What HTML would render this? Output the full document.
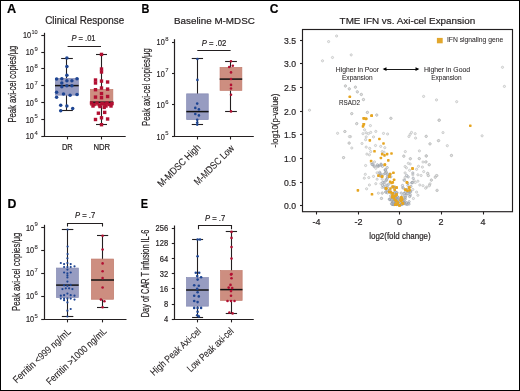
<!DOCTYPE html>
<html><head><meta charset="utf-8"><style>
html,body{margin:0;padding:0;background:#fff;}
text{stroke:#231f20;stroke-width:0.2px;}
svg{display:block;will-change:transform;font-family:"Liberation Sans", sans-serif;}
</style></head><body>
<svg width="520" height="391" viewBox="0 0 520 391">
<rect x="0" y="0" width="520" height="391" fill="#fff"/>
<text x="7" y="12.75" font-size="12" text-anchor="start" font-weight="bold" font-style="normal" fill="#000" textLength="9.2" lengthAdjust="spacingAndGlyphs" >A</text>
<text x="45.2" y="24.3" font-size="10" text-anchor="start" font-weight="normal" font-style="normal" fill="#231f20" textLength="79" lengthAdjust="spacingAndGlyphs" >Clinical Response</text>
<text transform="translate(16.1,84.1) rotate(-90)" font-size="10.2" text-anchor="middle" fill="#231f20" textLength="77" lengthAdjust="spacingAndGlyphs">Peak axi-cel copies/μg</text>
<line x1="44.5" y1="32.8" x2="44.5" y2="136.4" stroke="#231f20" stroke-width="1.2"/>
<line x1="43.5" y1="136.5" x2="125.7" y2="136.5" stroke="#231f20" stroke-width="1.2"/>
<line x1="41.300000000000004" y1="35.5" x2="44.1" y2="35.5" stroke="#231f20" stroke-width="1.1"/>
<text x="37.7" y="34.199999999999996" font-size="6.2" text-anchor="end" font-weight="normal" font-style="normal" fill="#231f20" textLength="6.2" lengthAdjust="spacingAndGlyphs" style="stroke-width:0.08px">10</text>
<text x="31.000000000000004" y="38.3" font-size="9.2" text-anchor="end" font-weight="normal" font-style="normal" fill="#231f20" textLength="8.1" lengthAdjust="spacingAndGlyphs" >10</text>
<line x1="41.300000000000004" y1="52.5" x2="44.1" y2="52.5" stroke="#231f20" stroke-width="1.1"/>
<text x="37.7" y="51.05" font-size="6.2" text-anchor="end" font-weight="normal" font-style="normal" fill="#231f20" textLength="3.3" lengthAdjust="spacingAndGlyphs" style="stroke-width:0.08px">9</text>
<text x="33.900000000000006" y="55.15" font-size="9.2" text-anchor="end" font-weight="normal" font-style="normal" fill="#231f20" textLength="8.1" lengthAdjust="spacingAndGlyphs" >10</text>
<line x1="41.300000000000004" y1="68.5" x2="44.1" y2="68.5" stroke="#231f20" stroke-width="1.1"/>
<text x="37.7" y="67.9" font-size="6.2" text-anchor="end" font-weight="normal" font-style="normal" fill="#231f20" textLength="3.3" lengthAdjust="spacingAndGlyphs" style="stroke-width:0.08px">8</text>
<text x="33.900000000000006" y="72.0" font-size="9.2" text-anchor="end" font-weight="normal" font-style="normal" fill="#231f20" textLength="8.1" lengthAdjust="spacingAndGlyphs" >10</text>
<line x1="41.300000000000004" y1="85.5" x2="44.1" y2="85.5" stroke="#231f20" stroke-width="1.1"/>
<text x="37.7" y="84.75" font-size="6.2" text-anchor="end" font-weight="normal" font-style="normal" fill="#231f20" textLength="3.3" lengthAdjust="spacingAndGlyphs" style="stroke-width:0.08px">7</text>
<text x="33.900000000000006" y="88.85" font-size="9.2" text-anchor="end" font-weight="normal" font-style="normal" fill="#231f20" textLength="8.1" lengthAdjust="spacingAndGlyphs" >10</text>
<line x1="41.300000000000004" y1="102.5" x2="44.1" y2="102.5" stroke="#231f20" stroke-width="1.1"/>
<text x="37.7" y="101.60000000000001" font-size="6.2" text-anchor="end" font-weight="normal" font-style="normal" fill="#231f20" textLength="3.3" lengthAdjust="spacingAndGlyphs" style="stroke-width:0.08px">6</text>
<text x="33.900000000000006" y="105.7" font-size="9.2" text-anchor="end" font-weight="normal" font-style="normal" fill="#231f20" textLength="8.1" lengthAdjust="spacingAndGlyphs" >10</text>
<line x1="41.300000000000004" y1="119.5" x2="44.1" y2="119.5" stroke="#231f20" stroke-width="1.1"/>
<text x="37.7" y="118.45" font-size="6.2" text-anchor="end" font-weight="normal" font-style="normal" fill="#231f20" textLength="3.3" lengthAdjust="spacingAndGlyphs" style="stroke-width:0.08px">5</text>
<text x="33.900000000000006" y="122.55" font-size="9.2" text-anchor="end" font-weight="normal" font-style="normal" fill="#231f20" textLength="8.1" lengthAdjust="spacingAndGlyphs" >10</text>
<line x1="41.300000000000004" y1="136.5" x2="44.1" y2="136.5" stroke="#231f20" stroke-width="1.1"/>
<text x="37.7" y="135.3" font-size="6.2" text-anchor="end" font-weight="normal" font-style="normal" fill="#231f20" textLength="3.3" lengthAdjust="spacingAndGlyphs" style="stroke-width:0.08px">4</text>
<text x="33.900000000000006" y="139.4" font-size="9.2" text-anchor="end" font-weight="normal" font-style="normal" fill="#231f20" textLength="8.1" lengthAdjust="spacingAndGlyphs" >10</text>
<line x1="67.5" y1="136.4" x2="67.5" y2="139.4" stroke="#231f20" stroke-width="1.1"/>
<line x1="101.5" y1="136.4" x2="101.5" y2="139.4" stroke="#231f20" stroke-width="1.1"/>
<text x="67.3" y="150.1" font-size="8.8" text-anchor="middle" font-weight="normal" font-style="normal" fill="#231f20" textLength="10.8" lengthAdjust="spacingAndGlyphs" >DR</text>
<text x="101.8" y="150.1" font-size="8.8" text-anchor="middle" font-weight="normal" font-style="normal" fill="#231f20" textLength="16.8" lengthAdjust="spacingAndGlyphs" >NDR</text>
<text x="71.4" y="41.1" font-size="8.6" text-anchor="start" font-weight="normal" font-style="normal" fill="#231f20" textLength="24.2" lengthAdjust="spacingAndGlyphs" ><tspan font-style="italic">P</tspan> = .01</text>
<line x1="67.6" y1="46.5" x2="101" y2="46.5" stroke="#231f20" stroke-width="1.1"/>
<line x1="66.5" y1="58.3" x2="66.5" y2="110.8" stroke="#231f20" stroke-width="1.1"/>
<line x1="61.15" y1="58.5" x2="72.85" y2="58.5" stroke="#231f20" stroke-width="1.1"/>
<line x1="61.15" y1="110.5" x2="72.85" y2="110.5" stroke="#231f20" stroke-width="1.1"/>
<rect x="55.35" y="78.35" width="23.000000000000004" height="16.8" fill="#979cc1" stroke="#878cb4" stroke-width="0.7"/>
<line x1="55" y1="85.6" x2="78.7" y2="85.6" stroke="#111" stroke-width="1.5"/>
<circle cx="66.9" cy="58.1" r="1.75" fill="#1e4592"/>
<circle cx="66.9" cy="66.5" r="1.75" fill="#1e4592"/>
<circle cx="66.9" cy="75.3" r="1.75" fill="#1e4592"/>
<circle cx="56.6" cy="79.1" r="1.75" fill="#1e4592"/>
<circle cx="61.8" cy="78.8" r="1.75" fill="#1e4592"/>
<circle cx="66.9" cy="80.8" r="1.75" fill="#1e4592"/>
<circle cx="71.9" cy="80.8" r="1.75" fill="#1e4592"/>
<circle cx="77" cy="78.8" r="1.75" fill="#1e4592"/>
<circle cx="61.8" cy="83.1" r="1.75" fill="#1e4592"/>
<circle cx="61.8" cy="86.8" r="1.75" fill="#1e4592"/>
<circle cx="66.9" cy="85.7" r="1.75" fill="#1e4592"/>
<circle cx="71.9" cy="85.7" r="1.75" fill="#1e4592"/>
<circle cx="56.6" cy="92.3" r="1.75" fill="#1e4592"/>
<circle cx="63.5" cy="94.1" r="1.75" fill="#1e4592"/>
<circle cx="70.1" cy="95.2" r="1.75" fill="#1e4592"/>
<circle cx="77" cy="94.6" r="1.75" fill="#1e4592"/>
<circle cx="56.6" cy="97.2" r="1.75" fill="#1e4592"/>
<circle cx="60.7" cy="105.2" r="1.75" fill="#1e4592"/>
<circle cx="66.9" cy="106" r="1.75" fill="#1e4592"/>
<circle cx="72.7" cy="108.4" r="1.75" fill="#1e4592"/>
<circle cx="60.7" cy="110.7" r="1.75" fill="#1e4592"/>
<line x1="101.5" y1="54.4" x2="101.5" y2="124.7" stroke="#231f20" stroke-width="1.1"/>
<line x1="96.0" y1="54.5" x2="107.0" y2="54.5" stroke="#231f20" stroke-width="1.1"/>
<line x1="96.0" y1="124.5" x2="107.0" y2="124.5" stroke="#231f20" stroke-width="1.1"/>
<rect x="90.55" y="89.44999999999999" width="22.3" height="16.200000000000006" fill="#cd8e80" stroke="#c27c6d" stroke-width="0.7"/>
<line x1="90.2" y1="102.2" x2="113.2" y2="102.2" stroke="#111" stroke-width="1.5"/>
<rect x="99.8" y="52.699999999999996" width="3.4" height="3.4" fill="#b21032" stroke="none" stroke-width="0"/>
<rect x="99.8" y="67.3" width="3.4" height="3.4" fill="#b21032" stroke="none" stroke-width="0"/>
<rect x="99.8" y="70.3" width="3.4" height="3.4" fill="#b21032" stroke="none" stroke-width="0"/>
<rect x="93.8" y="78.3" width="3.4" height="3.4" fill="#b21032" stroke="none" stroke-width="0"/>
<rect x="93.8" y="81.3" width="3.4" height="3.4" fill="#b21032" stroke="none" stroke-width="0"/>
<rect x="99.8" y="79.39999999999999" width="3.4" height="3.4" fill="#b21032" stroke="none" stroke-width="0"/>
<rect x="105.89999999999999" y="80.3" width="3.4" height="3.4" fill="#b21032" stroke="none" stroke-width="0"/>
<rect x="93.8" y="88.0" width="3.4" height="3.4" fill="#b21032" stroke="none" stroke-width="0"/>
<rect x="99.8" y="86.3" width="3.4" height="3.4" fill="#b21032" stroke="none" stroke-width="0"/>
<rect x="105.89999999999999" y="87.39999999999999" width="3.4" height="3.4" fill="#b21032" stroke="none" stroke-width="0"/>
<rect x="99.8" y="91.89999999999999" width="3.4" height="3.4" fill="#b21032" stroke="none" stroke-width="0"/>
<rect x="99.8" y="96.0" width="3.4" height="3.4" fill="#b21032" stroke="none" stroke-width="0"/>
<rect x="93.8" y="95.39999999999999" width="3.4" height="3.4" fill="#b21032" stroke="none" stroke-width="0"/>
<rect x="105.89999999999999" y="94.8" width="3.4" height="3.4" fill="#b21032" stroke="none" stroke-width="0"/>
<rect x="89.8" y="101.3" width="3.4" height="3.4" fill="#b21032" stroke="none" stroke-width="0"/>
<rect x="92.3" y="102.8" width="3.4" height="3.4" fill="#b21032" stroke="none" stroke-width="0"/>
<rect x="95.3" y="101.3" width="3.4" height="3.4" fill="#b21032" stroke="none" stroke-width="0"/>
<rect x="97.8" y="103.3" width="3.4" height="3.4" fill="#b21032" stroke="none" stroke-width="0"/>
<rect x="100.3" y="101.8" width="3.4" height="3.4" fill="#b21032" stroke="none" stroke-width="0"/>
<rect x="102.8" y="102.3" width="3.4" height="3.4" fill="#b21032" stroke="none" stroke-width="0"/>
<rect x="105.3" y="101.3" width="3.4" height="3.4" fill="#b21032" stroke="none" stroke-width="0"/>
<rect x="107.8" y="102.8" width="3.4" height="3.4" fill="#b21032" stroke="none" stroke-width="0"/>
<rect x="110.3" y="101.8" width="3.4" height="3.4" fill="#b21032" stroke="none" stroke-width="0"/>
<rect x="91.3" y="104.3" width="3.4" height="3.4" fill="#b21032" stroke="none" stroke-width="0"/>
<rect x="98.3" y="104.8" width="3.4" height="3.4" fill="#b21032" stroke="none" stroke-width="0"/>
<rect x="104.3" y="104.3" width="3.4" height="3.4" fill="#b21032" stroke="none" stroke-width="0"/>
<rect x="109.3" y="104.3" width="3.4" height="3.4" fill="#b21032" stroke="none" stroke-width="0"/>
<rect x="102.5" y="105.7" width="3.4" height="3.4" fill="#b21032" stroke="none" stroke-width="0"/>
<rect x="96.7" y="111.5" width="3.4" height="3.4" fill="#b21032" stroke="none" stroke-width="0"/>
<rect x="103.0" y="110.7" width="3.4" height="3.4" fill="#b21032" stroke="none" stroke-width="0"/>
<rect x="99.8" y="116.1" width="3.4" height="3.4" fill="#b21032" stroke="none" stroke-width="0"/>
<rect x="93.8" y="117.8" width="3.4" height="3.4" fill="#b21032" stroke="none" stroke-width="0"/>
<rect x="105.89999999999999" y="117.3" width="3.4" height="3.4" fill="#b21032" stroke="none" stroke-width="0"/>
<rect x="99.8" y="123.0" width="3.4" height="3.4" fill="#b21032" stroke="none" stroke-width="0"/>
<text x="141.6" y="12.8" font-size="12" text-anchor="start" font-weight="bold" font-style="normal" fill="#000" textLength="7.9" lengthAdjust="spacingAndGlyphs" >B</text>
<text x="174" y="23.7" font-size="9.5" text-anchor="start" font-weight="normal" font-style="normal" fill="#231f20" textLength="80.8" lengthAdjust="spacingAndGlyphs" >Baseline M-MDSC</text>
<text transform="translate(150.2,87) rotate(-90)" font-size="10.2" text-anchor="middle" fill="#231f20" textLength="77.8" lengthAdjust="spacingAndGlyphs">Peak axi-cel copies/μg</text>
<line x1="174.5" y1="39.2" x2="174.5" y2="136.5" stroke="#231f20" stroke-width="1.2"/>
<line x1="174.2" y1="136.5" x2="253.8" y2="136.5" stroke="#231f20" stroke-width="1.2"/>
<line x1="172.0" y1="42.5" x2="174.8" y2="42.5" stroke="#231f20" stroke-width="1.1"/>
<text x="168.5" y="40.9" font-size="6.2" text-anchor="end" font-weight="normal" font-style="normal" fill="#231f20" textLength="3.3" lengthAdjust="spacingAndGlyphs" style="stroke-width:0.08px">8</text>
<text x="164.7" y="45.0" font-size="9.2" text-anchor="end" font-weight="normal" font-style="normal" fill="#231f20" textLength="8.1" lengthAdjust="spacingAndGlyphs" >10</text>
<line x1="172.0" y1="73.5" x2="174.8" y2="73.5" stroke="#231f20" stroke-width="1.1"/>
<text x="168.5" y="72.4" font-size="6.2" text-anchor="end" font-weight="normal" font-style="normal" fill="#231f20" textLength="3.3" lengthAdjust="spacingAndGlyphs" style="stroke-width:0.08px">7</text>
<text x="164.7" y="76.5" font-size="9.2" text-anchor="end" font-weight="normal" font-style="normal" fill="#231f20" textLength="8.1" lengthAdjust="spacingAndGlyphs" >10</text>
<line x1="172.0" y1="104.5" x2="174.8" y2="104.5" stroke="#231f20" stroke-width="1.1"/>
<text x="168.5" y="103.9" font-size="6.2" text-anchor="end" font-weight="normal" font-style="normal" fill="#231f20" textLength="3.3" lengthAdjust="spacingAndGlyphs" style="stroke-width:0.08px">6</text>
<text x="164.7" y="108.0" font-size="9.2" text-anchor="end" font-weight="normal" font-style="normal" fill="#231f20" textLength="8.1" lengthAdjust="spacingAndGlyphs" >10</text>
<line x1="172.0" y1="136.5" x2="174.8" y2="136.5" stroke="#231f20" stroke-width="1.1"/>
<text x="168.5" y="135.4" font-size="6.2" text-anchor="end" font-weight="normal" font-style="normal" fill="#231f20" textLength="3.3" lengthAdjust="spacingAndGlyphs" style="stroke-width:0.08px">5</text>
<text x="164.7" y="139.5" font-size="9.2" text-anchor="end" font-weight="normal" font-style="normal" fill="#231f20" textLength="8.1" lengthAdjust="spacingAndGlyphs" >10</text>
<line x1="197.5" y1="136.4" x2="197.5" y2="139.5" stroke="#231f20" stroke-width="1.1"/>
<line x1="230.5" y1="136.4" x2="230.5" y2="139.5" stroke="#231f20" stroke-width="1.1"/>
<text x="201.7" y="45.5" font-size="8.6" text-anchor="start" font-weight="normal" font-style="normal" fill="#231f20" textLength="24.6" lengthAdjust="spacingAndGlyphs" ><tspan font-style="italic">P</tspan> = .02</text>
<line x1="197.3" y1="50.5" x2="230.6" y2="50.5" stroke="#231f20" stroke-width="1.1"/>
<line x1="197.5" y1="59" x2="197.5" y2="124.6" stroke="#231f20" stroke-width="1.1"/>
<line x1="191.75" y1="58.5" x2="203.05" y2="58.5" stroke="#231f20" stroke-width="1.1"/>
<line x1="191.75" y1="124.5" x2="203.05" y2="124.5" stroke="#231f20" stroke-width="1.1"/>
<rect x="186.65" y="93.85" width="21.599999999999984" height="25.8" fill="#979cc1" stroke="#878cb4" stroke-width="0.7"/>
<line x1="186.3" y1="111.6" x2="208.6" y2="111.6" stroke="#111" stroke-width="1.5"/>
<circle cx="197.4" cy="59" r="1.3" fill="#1e4592"/>
<circle cx="197.4" cy="79.9" r="1.3" fill="#1e4592"/>
<circle cx="197.2" cy="103.6" r="1.3" fill="#1e4592"/>
<circle cx="195.3" cy="107.9" r="1.3" fill="#1e4592"/>
<circle cx="198.9" cy="109.4" r="1.3" fill="#1e4592"/>
<circle cx="195.3" cy="114" r="1.3" fill="#1e4592"/>
<circle cx="198.9" cy="115.4" r="1.3" fill="#1e4592"/>
<circle cx="197.2" cy="119.7" r="1.3" fill="#1e4592"/>
<circle cx="197.2" cy="122.5" r="1.3" fill="#1e4592"/>
<circle cx="197.2" cy="124.6" r="1.3" fill="#1e4592"/>
<line x1="230.5" y1="61.3" x2="230.5" y2="111.4" stroke="#231f20" stroke-width="1.1"/>
<line x1="225.1" y1="61.5" x2="236.9" y2="61.5" stroke="#231f20" stroke-width="1.1"/>
<line x1="225.1" y1="111.5" x2="236.9" y2="111.5" stroke="#231f20" stroke-width="1.1"/>
<rect x="220.04999999999998" y="67.35" width="21.8" height="23.000000000000004" fill="#cd8e80" stroke="#c27c6d" stroke-width="0.7"/>
<line x1="219.7" y1="79.1" x2="242.2" y2="79.1" stroke="#111" stroke-width="1.5"/>
<circle cx="231" cy="61.3" r="1.3" fill="#b21032"/>
<circle cx="229.2" cy="67" r="1.3" fill="#b21032"/>
<circle cx="232.8" cy="65.8" r="1.3" fill="#b21032"/>
<circle cx="231" cy="72.4" r="1.3" fill="#b21032"/>
<circle cx="231" cy="79" r="1.3" fill="#b21032"/>
<circle cx="231" cy="84.9" r="1.3" fill="#b21032"/>
<circle cx="231" cy="88.5" r="1.3" fill="#b21032"/>
<circle cx="231" cy="94.7" r="1.3" fill="#b21032"/>
<circle cx="231" cy="111.4" r="1.3" fill="#b21032"/>
<text transform="translate(201.1,148) rotate(-45)" font-size="10" text-anchor="end" fill="#231f20" textLength="56" lengthAdjust="spacingAndGlyphs" style="stroke-width:0.1px">M-MDSC High</text>
<text transform="translate(234.8,149) rotate(-45)" font-size="10" text-anchor="end" fill="#231f20" textLength="52" lengthAdjust="spacingAndGlyphs" style="stroke-width:0.1px">M-MDSC Low</text>
<text x="269.8" y="12.8" font-size="12" text-anchor="start" font-weight="bold" font-style="normal" fill="#000" textLength="8.7" lengthAdjust="spacingAndGlyphs" >C</text>
<text x="339.6" y="24.2" font-size="9.7" text-anchor="start" font-weight="normal" font-style="normal" fill="#231f20" textLength="135.6" lengthAdjust="spacingAndGlyphs" >TME IFN vs. Axi-cel Expansion</text>
<rect x="302.5" y="29.5" width="210" height="182.2" fill="none" stroke="#231f20" stroke-width="1.15"/>
<line x1="300" y1="205.5" x2="302.6" y2="205.5" stroke="#231f20" stroke-width="1.1"/>
<text x="296" y="209.3" font-size="9" text-anchor="end" font-weight="normal" font-style="normal" fill="#231f20" textLength="12" lengthAdjust="spacingAndGlyphs" >0.0</text>
<line x1="300" y1="182.5" x2="302.6" y2="182.5" stroke="#231f20" stroke-width="1.1"/>
<text x="296" y="185.64000000000001" font-size="9" text-anchor="end" font-weight="normal" font-style="normal" fill="#231f20" textLength="12" lengthAdjust="spacingAndGlyphs" >0.5</text>
<line x1="300" y1="158.5" x2="302.6" y2="158.5" stroke="#231f20" stroke-width="1.1"/>
<text x="296" y="161.98000000000002" font-size="9" text-anchor="end" font-weight="normal" font-style="normal" fill="#231f20" textLength="12" lengthAdjust="spacingAndGlyphs" >1.0</text>
<line x1="300" y1="134.5" x2="302.6" y2="134.5" stroke="#231f20" stroke-width="1.1"/>
<text x="296" y="138.32000000000002" font-size="9" text-anchor="end" font-weight="normal" font-style="normal" fill="#231f20" textLength="12" lengthAdjust="spacingAndGlyphs" >1.5</text>
<line x1="300" y1="111.5" x2="302.6" y2="111.5" stroke="#231f20" stroke-width="1.1"/>
<text x="296" y="114.66000000000001" font-size="9" text-anchor="end" font-weight="normal" font-style="normal" fill="#231f20" textLength="12" lengthAdjust="spacingAndGlyphs" >2.0</text>
<line x1="300" y1="87.5" x2="302.6" y2="87.5" stroke="#231f20" stroke-width="1.1"/>
<text x="296" y="91.00000000000001" font-size="9" text-anchor="end" font-weight="normal" font-style="normal" fill="#231f20" textLength="12" lengthAdjust="spacingAndGlyphs" >2.5</text>
<line x1="300" y1="63.5" x2="302.6" y2="63.5" stroke="#231f20" stroke-width="1.1"/>
<text x="296" y="67.34" font-size="9" text-anchor="end" font-weight="normal" font-style="normal" fill="#231f20" textLength="12" lengthAdjust="spacingAndGlyphs" >3.0</text>
<line x1="300" y1="40.5" x2="302.6" y2="40.5" stroke="#231f20" stroke-width="1.1"/>
<text x="296" y="43.68" font-size="9" text-anchor="end" font-weight="normal" font-style="normal" fill="#231f20" textLength="12" lengthAdjust="spacingAndGlyphs" >3.5</text>
<line x1="316.5" y1="211.7" x2="316.5" y2="214.5" stroke="#231f20" stroke-width="1.1"/>
<text x="316.6" y="225.4" font-size="9" text-anchor="middle" font-weight="normal" font-style="normal" fill="#231f20" >-4</text>
<line x1="358.5" y1="211.7" x2="358.5" y2="214.5" stroke="#231f20" stroke-width="1.1"/>
<text x="358.5" y="225.4" font-size="9" text-anchor="middle" font-weight="normal" font-style="normal" fill="#231f20" >-2</text>
<line x1="399.5" y1="211.7" x2="399.5" y2="214.5" stroke="#231f20" stroke-width="1.1"/>
<text x="399.6" y="225.4" font-size="9" text-anchor="middle" font-weight="normal" font-style="normal" fill="#231f20" >0</text>
<line x1="441.5" y1="211.7" x2="441.5" y2="214.5" stroke="#231f20" stroke-width="1.1"/>
<text x="441.1" y="225.4" font-size="9" text-anchor="middle" font-weight="normal" font-style="normal" fill="#231f20" >2</text>
<line x1="483.5" y1="211.7" x2="483.5" y2="214.5" stroke="#231f20" stroke-width="1.1"/>
<text x="483.1" y="225.4" font-size="9" text-anchor="middle" font-weight="normal" font-style="normal" fill="#231f20" >4</text>
<text x="369.2" y="238.5" font-size="9.4" text-anchor="start" font-weight="normal" font-style="normal" fill="#231f20" textLength="61.5" lengthAdjust="spacingAndGlyphs" >log2(fold change)</text>
<text transform="translate(278.3,120.5) rotate(-90)" font-size="9.6" text-anchor="middle" fill="#231f20" textLength="53.8" lengthAdjust="spacingAndGlyphs">-log10(p-value)</text>
<rect x="436.9" y="37.9" width="5.8" height="5.4" fill="#e2a72d" stroke="none" stroke-width="0"/>
<text x="446.9" y="42.3" font-size="7.3" text-anchor="start" font-weight="normal" font-style="normal" fill="#231f20" textLength="56.4" lengthAdjust="spacingAndGlyphs" style="stroke-width:0.05px">IFN signaling gene</text>
<text x="335.8" y="71.9" font-size="7.3" text-anchor="start" font-weight="normal" font-style="normal" fill="#231f20" textLength="43.3" lengthAdjust="spacingAndGlyphs" style="stroke-width:0.05px">Higher in Poor</text>
<text x="342" y="79.8" font-size="7.3" text-anchor="start" font-weight="normal" font-style="normal" fill="#231f20" textLength="30.6" lengthAdjust="spacingAndGlyphs" style="stroke-width:0.05px">Expansion</text>
<text x="423.9" y="71.7" font-size="7.3" text-anchor="start" font-weight="normal" font-style="normal" fill="#231f20" textLength="46.3" lengthAdjust="spacingAndGlyphs" style="stroke-width:0.05px">Higher in Good</text>
<text x="431.2" y="79.7" font-size="7.3" text-anchor="start" font-weight="normal" font-style="normal" fill="#231f20" textLength="30.4" lengthAdjust="spacingAndGlyphs" style="stroke-width:0.05px">Expansion</text>
<text x="339" y="104.8" font-size="7.3" text-anchor="start" font-weight="normal" font-style="normal" fill="#231f20" textLength="21" lengthAdjust="spacingAndGlyphs" style="stroke-width:0.05px">RSAD2</text>
<line x1="384" y1="69.5" x2="418" y2="69.5" stroke="#000" stroke-width="0.9"/>
<path d="M382.6,69.1 L386.5,67.3 L386.5,70.9 Z M419.4,69.1 L415.5,67.3 L415.5,70.9 Z" fill="#000"/>
<g fill="#e6e6e6" fill-opacity="0.6" stroke="#b8b9ba" stroke-width="0.65"><circle cx="336.6" cy="36" r="1.1"/><circle cx="328.6" cy="41.6" r="1.1"/><circle cx="332.5" cy="57.5" r="1.1"/><circle cx="322.5" cy="60.8" r="1.1"/><circle cx="351.2" cy="54.9" r="1.1"/><circle cx="345.5" cy="85.9" r="1.1"/><circle cx="349.4" cy="88.9" r="1.1"/><circle cx="355.5" cy="87.1" r="1.1"/><circle cx="357.5" cy="92" r="1.1"/><circle cx="361.4" cy="94.6" r="1.1"/><circle cx="363.4" cy="99.7" r="1.1"/><circle cx="309.5" cy="110.2" r="1.1"/><circle cx="351.7" cy="113.7" r="1.1"/><circle cx="367.3" cy="112.5" r="1.1"/><circle cx="376.7" cy="115" r="1.1"/><circle cx="390.8" cy="118.3" r="1.1"/><circle cx="356.8" cy="123.5" r="1.1"/><circle cx="502.5" cy="67.3" r="1.1"/><circle cx="504.4" cy="86.4" r="1.1"/><circle cx="423.6" cy="96.4" r="1.1"/><circle cx="436.5" cy="99.9" r="1.1"/><circle cx="456.7" cy="101.7" r="1.1"/><circle cx="439.2" cy="120" r="1.1"/><circle cx="351.8" cy="113.6" r="1.1"/><circle cx="367.5" cy="112.3" r="1.1"/><circle cx="376.8" cy="115.1" r="1.1"/><circle cx="356.6" cy="123.8" r="1.1"/><circle cx="370.4" cy="125.6" r="1.1"/><circle cx="344.9" cy="131.5" r="1.1"/><circle cx="364.6" cy="129.8" r="1.1"/><circle cx="375.8" cy="131.4" r="1.1"/><circle cx="363" cy="133.7" r="1.1"/><circle cx="366.2" cy="132.8" r="1.1"/><circle cx="368.4" cy="133.7" r="1.1"/><circle cx="370.7" cy="132.4" r="1.1"/><circle cx="350.5" cy="136.6" r="1.1"/><circle cx="366.2" cy="136.9" r="1.1"/><circle cx="373.5" cy="136.9" r="1.1"/><circle cx="383.5" cy="133.4" r="1.1"/><circle cx="387.6" cy="134" r="1.1"/><circle cx="365.6" cy="139.7" r="1.1"/><circle cx="349.2" cy="143.2" r="1.1"/><circle cx="362" cy="143.5" r="1.1"/><circle cx="375.5" cy="145.5" r="1.1"/><circle cx="380.7" cy="146.4" r="1.1"/><circle cx="384.8" cy="147.7" r="1.1"/><circle cx="351.8" cy="148" r="1.1"/><circle cx="366.2" cy="147.1" r="1.1"/><circle cx="369.7" cy="148.4" r="1.1"/><circle cx="370.7" cy="151.6" r="1.1"/><circle cx="366.9" cy="154.1" r="1.1"/><circle cx="369.4" cy="154.8" r="1.1"/><circle cx="382.2" cy="151.6" r="1.1"/><circle cx="384.1" cy="152.2" r="1.1"/><circle cx="343.6" cy="157.6" r="1.1"/><circle cx="391" cy="118.3" r="1.1"/><circle cx="439" cy="120.2" r="1.1"/><circle cx="411.5" cy="132.4" r="1.1"/><circle cx="410.2" cy="134.3" r="1.1"/><circle cx="408.9" cy="136.5" r="1.1"/><circle cx="415.2" cy="133.7" r="1.1"/><circle cx="415.6" cy="138.1" r="1.1"/><circle cx="426.2" cy="136.2" r="1.1"/><circle cx="429.9" cy="143.9" r="1.1"/><circle cx="438.3" cy="140.7" r="1.1"/><circle cx="405.3" cy="151.6" r="1.1"/><circle cx="419.4" cy="150.9" r="1.1"/><circle cx="403.8" cy="156" r="1.1"/><circle cx="410.5" cy="158.6" r="1.1"/><circle cx="419.4" cy="158.6" r="1.1"/><circle cx="426.4" cy="155.8" r="1.1"/><circle cx="365.6" cy="165.5" r="1.1"/><circle cx="371.3" cy="162.6" r="1.1"/><circle cx="374.5" cy="161.9" r="1.1"/><circle cx="373.9" cy="166.4" r="1.1"/><circle cx="375.8" cy="168.3" r="1.1"/><circle cx="378.4" cy="165.8" r="1.1"/><circle cx="380.9" cy="165.1" r="1.1"/><circle cx="365.3" cy="174.3" r="1.1"/><circle cx="364.3" cy="178.2" r="1.1"/><circle cx="368.8" cy="177.6" r="1.1"/><circle cx="373.5" cy="176.4" r="1.1"/><circle cx="377.1" cy="172.8" r="1.1"/><circle cx="380.9" cy="174.1" r="1.1"/><circle cx="384.8" cy="173.4" r="1.1"/><circle cx="377.1" cy="179.2" r="1.1"/><circle cx="382.2" cy="179.2" r="1.1"/><circle cx="386" cy="179.2" r="1.1"/><circle cx="375.8" cy="183.7" r="1.1"/><circle cx="380.9" cy="183.7" r="1.1"/><circle cx="384.8" cy="184.3" r="1.1"/><circle cx="369.4" cy="185" r="1.1"/><circle cx="366.6" cy="188.8" r="1.1"/><circle cx="382.2" cy="187.5" r="1.1"/><circle cx="386" cy="186.9" r="1.1"/><circle cx="378.4" cy="193.2" r="1.1"/><circle cx="382.2" cy="193.2" r="1.1"/><circle cx="381.6" cy="198.4" r="1.1"/><circle cx="439.3" cy="120.4" r="1.1"/><circle cx="426.2" cy="136.5" r="1.1"/><circle cx="443" cy="132.6" r="1.1"/><circle cx="438.8" cy="140.6" r="1.1"/><circle cx="430.1" cy="143.8" r="1.1"/><circle cx="447.3" cy="145.7" r="1.1"/><circle cx="451.5" cy="155.3" r="1.1"/><circle cx="482.1" cy="135.8" r="1.1"/><circle cx="426.2" cy="156" r="1.1"/><circle cx="426.2" cy="161.8" r="1.1"/><circle cx="429.1" cy="164.8" r="1.1"/><circle cx="427.8" cy="173.3" r="1.1"/><circle cx="428.5" cy="175.6" r="1.1"/><circle cx="431.4" cy="180.2" r="1.1"/><circle cx="435.4" cy="176.8" r="1.1"/><circle cx="437" cy="175.6" r="1.1"/><circle cx="429.6" cy="184.8" r="1.1"/><circle cx="426.8" cy="187.1" r="1.1"/><circle cx="437" cy="190.6" r="1.1"/><circle cx="337.6" cy="133.3" r="1.1"/><circle cx="344.8" cy="131.5" r="1.1"/><circle cx="349.4" cy="136.6" r="1.1"/><circle cx="349.1" cy="143" r="1.1"/><circle cx="343.5" cy="157.6" r="1.1"/><circle cx="382.2" cy="193" r="1.1"/><circle cx="381.3" cy="198.4" r="1.1"/><circle cx="403.8" cy="156.3" r="1.1"/><circle cx="410.2" cy="158.8" r="1.1"/><circle cx="419.2" cy="158.6" r="1.1"/><circle cx="426.2" cy="156" r="1.1"/><circle cx="423" cy="162" r="1.1"/><circle cx="425.6" cy="162" r="1.1"/><circle cx="429.4" cy="164.6" r="1.1"/><circle cx="408.3" cy="163.3" r="1.1"/><circle cx="410.2" cy="164" r="1.1"/><circle cx="405.1" cy="166.5" r="1.1"/><circle cx="406.4" cy="167.8" r="1.1"/><circle cx="418.5" cy="166.3" r="1.1"/><circle cx="422.4" cy="167.1" r="1.1"/><circle cx="409.6" cy="170.3" r="1.1"/><circle cx="416.6" cy="169.3" r="1.1"/><circle cx="423.7" cy="171.6" r="1.1"/><circle cx="405.1" cy="172.9" r="1.1"/><circle cx="412.8" cy="174.8" r="1.1"/><circle cx="417.9" cy="174.8" r="1.1"/><circle cx="421.1" cy="175.5" r="1.1"/><circle cx="427.5" cy="173.5" r="1.1"/><circle cx="428.1" cy="175.5" r="1.1"/><circle cx="436.4" cy="175.5" r="1.1"/><circle cx="435.2" cy="177.4" r="1.1"/><circle cx="405.1" cy="177.4" r="1.1"/><circle cx="431.3" cy="180" r="1.1"/><circle cx="414.1" cy="180.6" r="1.1"/><circle cx="417.9" cy="181.2" r="1.1"/><circle cx="403.8" cy="180" r="1.1"/><circle cx="412.1" cy="182.5" r="1.1"/><circle cx="415.3" cy="182.5" r="1.1"/><circle cx="419.8" cy="185" r="1.1"/><circle cx="423" cy="185.7" r="1.1"/><circle cx="425.6" cy="188.2" r="1.1"/><circle cx="430" cy="183.8" r="1.1"/><circle cx="429.4" cy="185.7" r="1.1"/><circle cx="402.6" cy="187.6" r="1.1"/><circle cx="437.1" cy="190.2" r="1.1"/><circle cx="412.8" cy="189.5" r="1.1"/><circle cx="416.6" cy="192.1" r="1.1"/><circle cx="417.9" cy="195.3" r="1.1"/><circle cx="409" cy="192.1" r="1.1"/><circle cx="410.2" cy="195.9" r="1.1"/><circle cx="403.8" cy="193.4" r="1.1"/><circle cx="405.1" cy="197.2" r="1.1"/><circle cx="413.4" cy="198.5" r="1.1"/><circle cx="402.6" cy="199.8" r="1.1"/><circle cx="405.8" cy="202.3" r="1.1"/><circle cx="451.4" cy="155.6" r="1.1"/><circle cx="345.3" cy="86" r="1.1"/><circle cx="349.2" cy="88.8" r="1.1"/><circle cx="355.3" cy="87.2" r="1.1"/><circle cx="357.2" cy="91.7" r="1.1"/><circle cx="361.3" cy="94.3" r="1.1"/><circle cx="363.5" cy="99.4" r="1.1"/></g>
<g fill="#cfd4da" fill-opacity="0.5" stroke="#959ca4" stroke-width="0.6"><circle cx="391.1" cy="200.1" r="1.15"/><circle cx="383.6" cy="186.7" r="1.15"/><circle cx="389.8" cy="192.4" r="1.15"/><circle cx="396.8" cy="204.4" r="1.15"/><circle cx="396.1" cy="204.4" r="1.15"/><circle cx="392.6" cy="204.3" r="1.15"/><circle cx="397.0" cy="196.9" r="1.15"/><circle cx="393.7" cy="203.9" r="1.15"/><circle cx="394.7" cy="188.0" r="1.15"/><circle cx="389.3" cy="190.5" r="1.15"/><circle cx="372.0" cy="164.5" r="1.15"/><circle cx="379.9" cy="173.5" r="1.15"/><circle cx="392.5" cy="203.6" r="1.15"/><circle cx="398.3" cy="200.5" r="1.15"/><circle cx="397.0" cy="203.1" r="1.15"/><circle cx="387.5" cy="187.4" r="1.15"/><circle cx="386.0" cy="191.9" r="1.15"/><circle cx="393.7" cy="204.4" r="1.15"/><circle cx="387.1" cy="185.1" r="1.15"/><circle cx="395.8" cy="200.4" r="1.15"/><circle cx="390.7" cy="195.9" r="1.15"/><circle cx="387.5" cy="178.0" r="1.15"/><circle cx="396.4" cy="202.0" r="1.15"/><circle cx="395.9" cy="192.9" r="1.15"/><circle cx="384.0" cy="182.2" r="1.15"/><circle cx="372.9" cy="164.1" r="1.15"/><circle cx="396.3" cy="197.2" r="1.15"/><circle cx="396.2" cy="203.5" r="1.15"/><circle cx="398.4" cy="204.4" r="1.15"/><circle cx="386.7" cy="179.9" r="1.15"/><circle cx="379.7" cy="172.3" r="1.15"/><circle cx="388.8" cy="184.2" r="1.15"/><circle cx="389.9" cy="190.4" r="1.15"/><circle cx="389.5" cy="174.9" r="1.15"/><circle cx="394.4" cy="195.1" r="1.15"/><circle cx="398.7" cy="204.3" r="1.15"/><circle cx="394.9" cy="186.9" r="1.15"/><circle cx="381.1" cy="176.1" r="1.15"/><circle cx="395.8" cy="198.2" r="1.15"/><circle cx="396.4" cy="204.5" r="1.15"/><circle cx="392.3" cy="203.3" r="1.15"/><circle cx="399.4" cy="204.4" r="1.15"/><circle cx="393.9" cy="203.8" r="1.15"/><circle cx="397.9" cy="198.1" r="1.15"/><circle cx="396.1" cy="204.2" r="1.15"/><circle cx="395.5" cy="191.8" r="1.15"/><circle cx="389.0" cy="176.3" r="1.15"/><circle cx="394.4" cy="201.2" r="1.15"/><circle cx="398.5" cy="199.1" r="1.15"/><circle cx="374.3" cy="166.0" r="1.15"/><circle cx="393.4" cy="203.2" r="1.15"/><circle cx="395.6" cy="202.2" r="1.15"/><circle cx="387.4" cy="189.9" r="1.15"/><circle cx="396.0" cy="204.5" r="1.15"/><circle cx="394.9" cy="198.8" r="1.15"/><circle cx="382.4" cy="166.3" r="1.15"/><circle cx="393.1" cy="193.3" r="1.15"/><circle cx="382.6" cy="185.3" r="1.15"/><circle cx="385.4" cy="170.5" r="1.15"/><circle cx="386.5" cy="172.4" r="1.15"/><circle cx="392.8" cy="198.0" r="1.15"/><circle cx="397.9" cy="204.0" r="1.15"/><circle cx="392.3" cy="204.3" r="1.15"/><circle cx="392.5" cy="202.7" r="1.15"/><circle cx="389.8" cy="199.6" r="1.15"/><circle cx="393.3" cy="204.5" r="1.15"/><circle cx="395.2" cy="204.1" r="1.15"/><circle cx="400.5" cy="204.5" r="1.15"/><circle cx="385.4" cy="188.7" r="1.15"/><circle cx="394.0" cy="201.8" r="1.15"/><circle cx="390.2" cy="198.9" r="1.15"/><circle cx="389.9" cy="174.2" r="1.15"/><circle cx="392.5" cy="195.4" r="1.15"/><circle cx="392.6" cy="204.2" r="1.15"/><circle cx="392.1" cy="199.6" r="1.15"/><circle cx="379.2" cy="175.6" r="1.15"/><circle cx="401.3" cy="204.5" r="1.15"/><circle cx="387.4" cy="192.8" r="1.15"/><circle cx="385.7" cy="192.1" r="1.15"/><circle cx="397.0" cy="192.8" r="1.15"/><circle cx="385.4" cy="173.2" r="1.15"/><circle cx="394.1" cy="201.6" r="1.15"/><circle cx="399.0" cy="203.3" r="1.15"/><circle cx="394.6" cy="192.6" r="1.15"/><circle cx="391.8" cy="199.9" r="1.15"/><circle cx="390.8" cy="176.8" r="1.15"/><circle cx="387.2" cy="174.0" r="1.15"/><circle cx="387.3" cy="176.4" r="1.15"/><circle cx="396.0" cy="202.3" r="1.15"/><circle cx="389.3" cy="199.2" r="1.15"/><circle cx="394.5" cy="204.5" r="1.15"/><circle cx="397.5" cy="201.7" r="1.15"/><circle cx="378.7" cy="166.1" r="1.15"/><circle cx="387.2" cy="167.6" r="1.15"/><circle cx="377.6" cy="166.2" r="1.15"/><circle cx="393.0" cy="202.5" r="1.15"/><circle cx="393.0" cy="202.9" r="1.15"/><circle cx="394.2" cy="188.1" r="1.15"/><circle cx="383.1" cy="174.8" r="1.15"/><circle cx="392.4" cy="186.6" r="1.15"/><circle cx="398.3" cy="204.2" r="1.15"/><circle cx="385.1" cy="169.7" r="1.15"/><circle cx="385.9" cy="180.9" r="1.15"/><circle cx="399.1" cy="203.2" r="1.15"/><circle cx="397.9" cy="199.9" r="1.15"/><circle cx="377.4" cy="164.8" r="1.15"/><circle cx="398.6" cy="197.7" r="1.15"/><circle cx="382.7" cy="182.4" r="1.15"/><circle cx="392.9" cy="203.8" r="1.15"/><circle cx="385.6" cy="170.1" r="1.15"/><circle cx="399.7" cy="203.6" r="1.15"/><circle cx="381.0" cy="164.1" r="1.15"/><circle cx="395.0" cy="199.3" r="1.15"/><circle cx="391.5" cy="203.8" r="1.15"/><circle cx="381.2" cy="164.9" r="1.15"/><circle cx="396.5" cy="192.9" r="1.15"/><circle cx="397.3" cy="196.6" r="1.15"/><circle cx="380.0" cy="175.8" r="1.15"/><circle cx="393.4" cy="201.8" r="1.15"/><circle cx="396.6" cy="202.1" r="1.15"/><circle cx="403.9" cy="200.8" r="1.15"/><circle cx="408.4" cy="203.3" r="1.15"/><circle cx="404.7" cy="198.4" r="1.15"/><circle cx="410.4" cy="191.0" r="1.15"/><circle cx="409.6" cy="196.5" r="1.15"/><circle cx="406.2" cy="193.9" r="1.15"/><circle cx="401.2" cy="193.1" r="1.15"/><circle cx="402.4" cy="195.9" r="1.15"/><circle cx="407.1" cy="204.5" r="1.15"/><circle cx="404.1" cy="202.6" r="1.15"/><circle cx="407.9" cy="185.4" r="1.15"/><circle cx="405.2" cy="199.2" r="1.15"/><circle cx="409.1" cy="192.0" r="1.15"/><circle cx="404.8" cy="203.6" r="1.15"/><circle cx="402.4" cy="201.1" r="1.15"/><circle cx="407.8" cy="183.3" r="1.15"/><circle cx="408.8" cy="191.8" r="1.15"/><circle cx="408.2" cy="176.9" r="1.15"/><circle cx="406.6" cy="189.9" r="1.15"/><circle cx="407.9" cy="193.5" r="1.15"/><circle cx="405.9" cy="195.5" r="1.15"/><circle cx="410.2" cy="194.7" r="1.15"/><circle cx="410.9" cy="186.4" r="1.15"/><circle cx="406.6" cy="175.4" r="1.15"/><circle cx="410.7" cy="191.9" r="1.15"/><circle cx="404.6" cy="180.3" r="1.15"/><circle cx="403.7" cy="203.4" r="1.15"/><circle cx="401.6" cy="204.0" r="1.15"/><circle cx="405.9" cy="204.0" r="1.15"/><circle cx="411.7" cy="182.8" r="1.15"/><circle cx="406.5" cy="202.9" r="1.15"/><circle cx="403.3" cy="188.0" r="1.15"/><circle cx="413.2" cy="178.3" r="1.15"/><circle cx="409.1" cy="201.7" r="1.15"/><circle cx="405.2" cy="197.2" r="1.15"/><circle cx="412.8" cy="173.0" r="1.15"/><circle cx="403.7" cy="202.8" r="1.15"/><circle cx="404.4" cy="193.4" r="1.15"/><circle cx="402.7" cy="202.1" r="1.15"/><circle cx="402.5" cy="185.5" r="1.15"/><circle cx="405.6" cy="192.1" r="1.15"/><circle cx="402.4" cy="204.4" r="1.15"/><circle cx="406.8" cy="189.5" r="1.15"/><circle cx="409.0" cy="204.1" r="1.15"/><circle cx="412.5" cy="182.6" r="1.15"/></g>
<g fill="#e6a520"><rect x="348.5" y="95.5" width="2.6" height="2.6" rx="0.7"/><rect x="362.59999999999997" y="117.10000000000001" width="2.6" height="2.6" rx="0.7"/><rect x="364.7" y="117.60000000000001" width="2.6" height="2.6" rx="0.7"/><rect x="370.3" y="114.5" width="2.6" height="2.6" rx="0.7"/><rect x="362.59999999999997" y="122.9" width="2.6" height="2.6" rx="0.7"/><rect x="469.0" y="124.4" width="2.6" height="2.6" rx="0.7"/><rect x="370.4" y="114.2" width="2.6" height="2.6" rx="0.7"/><rect x="362.4" y="117.0" width="2.6" height="2.6" rx="0.7"/><rect x="364.9" y="117.4" width="2.6" height="2.6" rx="0.7"/><rect x="362.4" y="123.0" width="2.6" height="2.6" rx="0.7"/><rect x="361.7" y="125.10000000000001" width="2.6" height="2.6" rx="0.7"/><rect x="368.5" y="139.1" width="2.6" height="2.6" rx="0.7"/><rect x="378.09999999999997" y="137.7" width="2.6" height="2.6" rx="0.7"/><rect x="382.2" y="142.2" width="2.6" height="2.6" rx="0.7"/><rect x="373.2" y="150.0" width="2.6" height="2.6" rx="0.7"/><rect x="380.9" y="152.79999999999998" width="2.6" height="2.6" rx="0.7"/><rect x="383.2" y="154.1" width="2.6" height="2.6" rx="0.7"/><rect x="385.8" y="152.79999999999998" width="2.6" height="2.6" rx="0.7"/><rect x="379.59999999999997" y="156.7" width="2.6" height="2.6" rx="0.7"/><rect x="390.2" y="152.2" width="2.6" height="2.6" rx="0.7"/><rect x="369.8" y="159.7" width="2.6" height="2.6" rx="0.7"/><rect x="383.5" y="163.6" width="2.6" height="2.6" rx="0.7"/><rect x="377.09999999999997" y="174.29999999999998" width="2.6" height="2.6" rx="0.7"/><rect x="380.9" y="175.29999999999998" width="2.6" height="2.6" rx="0.7"/><rect x="387.9" y="175.29999999999998" width="2.6" height="2.6" rx="0.7"/><rect x="356.59999999999997" y="189.1" width="2.6" height="2.6" rx="0.7"/><rect x="370.7" y="193.0" width="2.6" height="2.6" rx="0.7"/><rect x="384.7" y="187.1" width="2.6" height="2.6" rx="0.7"/><rect x="387.9" y="190.7" width="2.6" height="2.6" rx="0.7"/><rect x="383.59999999999997" y="163.2" width="2.6" height="2.6" rx="0.7"/><rect x="387.0" y="159.1" width="2.6" height="2.6" rx="0.7"/><rect x="380.59999999999997" y="175.29999999999998" width="2.6" height="2.6" rx="0.7"/><rect x="388.3" y="175.29999999999998" width="2.6" height="2.6" rx="0.7"/><rect x="388.9" y="172.79999999999998" width="2.6" height="2.6" rx="0.7"/><rect x="392.09999999999997" y="171.5" width="2.6" height="2.6" rx="0.7"/><rect x="388.9" y="180.39999999999998" width="2.6" height="2.6" rx="0.7"/><rect x="390.2" y="181.7" width="2.6" height="2.6" rx="0.7"/><rect x="392.8" y="178.5" width="2.6" height="2.6" rx="0.7"/><rect x="391.5" y="181.1" width="2.6" height="2.6" rx="0.7"/><rect x="384.8" y="187.1" width="2.6" height="2.6" rx="0.7"/><rect x="391.5" y="185.6" width="2.6" height="2.6" rx="0.7"/><rect x="395.3" y="186.2" width="2.6" height="2.6" rx="0.7"/><rect x="389.59999999999997" y="190.7" width="2.6" height="2.6" rx="0.7"/><rect x="391.5" y="191.89999999999998" width="2.6" height="2.6" rx="0.7"/><rect x="394.0" y="194.5" width="2.6" height="2.6" rx="0.7"/><rect x="395.3" y="193.2" width="2.6" height="2.6" rx="0.7"/><rect x="390.8" y="195.79999999999998" width="2.6" height="2.6" rx="0.7"/><rect x="392.8" y="197.1" width="2.6" height="2.6" rx="0.7"/><rect x="400.4" y="197.1" width="2.6" height="2.6" rx="0.7"/><rect x="399.8" y="199.6" width="2.6" height="2.6" rx="0.7"/><rect x="394.7" y="199.6" width="2.6" height="2.6" rx="0.7"/><rect x="395.3" y="202.79999999999998" width="2.6" height="2.6" rx="0.7"/><rect x="394.0" y="203.5" width="2.6" height="2.6" rx="0.7"/><rect x="397.9" y="204.1" width="2.6" height="2.6" rx="0.7"/><rect x="401.7" y="202.2" width="2.6" height="2.6" rx="0.7"/><rect x="405.59999999999997" y="181.1" width="2.6" height="2.6" rx="0.7"/><rect x="408.09999999999997" y="186.2" width="2.6" height="2.6" rx="0.7"/><rect x="404.3" y="188.7" width="2.6" height="2.6" rx="0.7"/><rect x="406.2" y="189.39999999999998" width="2.6" height="2.6" rx="0.7"/><rect x="411.3" y="167.39999999999998" width="2.6" height="2.6" rx="0.7"/><rect x="411.2" y="167.1" width="2.6" height="2.6" rx="0.7"/><rect x="405.7" y="181.2" width="2.6" height="2.6" rx="0.7"/><rect x="403.8" y="188.2" width="2.6" height="2.6" rx="0.7"/><rect x="407.7" y="186.29999999999998" width="2.6" height="2.6" rx="0.7"/><rect x="408.3" y="188.89999999999998" width="2.6" height="2.6" rx="0.7"/><rect x="400.0" y="195.89999999999998" width="2.6" height="2.6" rx="0.7"/><rect x="400.59999999999997" y="198.5" width="2.6" height="2.6" rx="0.7"/><rect x="401.3" y="201.7" width="2.6" height="2.6" rx="0.7"/><rect x="384.8" y="187.2" width="2.6" height="2.6" rx="0.7"/><rect x="389.2" y="187.2" width="2.6" height="2.6" rx="0.7"/><rect x="392.09999999999997" y="185.6" width="2.6" height="2.6" rx="0.7"/><rect x="395.3" y="186.29999999999998" width="2.6" height="2.6" rx="0.7"/><rect x="393.4" y="188.5" width="2.6" height="2.6" rx="0.7"/><rect x="388.3" y="190.39999999999998" width="2.6" height="2.6" rx="0.7"/><rect x="390.5" y="192.0" width="2.6" height="2.6" rx="0.7"/><rect x="391.2" y="194.2" width="2.6" height="2.6" rx="0.7"/><rect x="392.09999999999997" y="195.5" width="2.6" height="2.6" rx="0.7"/><rect x="395.3" y="193.29999999999998" width="2.6" height="2.6" rx="0.7"/><rect x="394.0" y="194.6" width="2.6" height="2.6" rx="0.7"/><rect x="394.0" y="198.7" width="2.6" height="2.6" rx="0.7"/><rect x="395.0" y="200.0" width="2.6" height="2.6" rx="0.7"/><rect x="399.8" y="196.5" width="2.6" height="2.6" rx="0.7"/><rect x="400.8" y="197.39999999999998" width="2.6" height="2.6" rx="0.7"/><rect x="399.2" y="199.0" width="2.6" height="2.6" rx="0.7"/><rect x="396.59999999999997" y="201.29999999999998" width="2.6" height="2.6" rx="0.7"/><rect x="394.0" y="203.5" width="2.6" height="2.6" rx="0.7"/><rect x="398.5" y="204.2" width="2.6" height="2.6" rx="0.7"/><rect x="401.4" y="202.2" width="2.6" height="2.6" rx="0.7"/></g>
<text x="7.6" y="208" font-size="12" text-anchor="start" font-weight="bold" font-style="normal" fill="#000" textLength="8.9" lengthAdjust="spacingAndGlyphs" >D</text>
<text transform="translate(20,271.8) rotate(-90)" font-size="10.2" text-anchor="middle" fill="#231f20" textLength="78.4" lengthAdjust="spacingAndGlyphs">Peak axi-cel copies/μg</text>
<line x1="44.5" y1="224.8" x2="44.5" y2="319.2" stroke="#231f20" stroke-width="1.2"/>
<line x1="43.4" y1="319.5" x2="126.5" y2="319.5" stroke="#231f20" stroke-width="1.2"/>
<line x1="41.2" y1="227.5" x2="44" y2="227.5" stroke="#231f20" stroke-width="1.1"/>
<text x="37.9" y="226.4" font-size="6.2" text-anchor="end" font-weight="normal" font-style="normal" fill="#231f20" textLength="3.3" lengthAdjust="spacingAndGlyphs" style="stroke-width:0.08px">9</text>
<text x="34.1" y="230.5" font-size="9.2" text-anchor="end" font-weight="normal" font-style="normal" fill="#231f20" textLength="8.1" lengthAdjust="spacingAndGlyphs" >10</text>
<line x1="41.2" y1="250.5" x2="44" y2="250.5" stroke="#231f20" stroke-width="1.1"/>
<text x="37.9" y="249.33" font-size="6.2" text-anchor="end" font-weight="normal" font-style="normal" fill="#231f20" textLength="3.3" lengthAdjust="spacingAndGlyphs" style="stroke-width:0.08px">8</text>
<text x="34.1" y="253.43" font-size="9.2" text-anchor="end" font-weight="normal" font-style="normal" fill="#231f20" textLength="8.1" lengthAdjust="spacingAndGlyphs" >10</text>
<line x1="41.2" y1="273.5" x2="44" y2="273.5" stroke="#231f20" stroke-width="1.1"/>
<text x="37.9" y="272.26" font-size="6.2" text-anchor="end" font-weight="normal" font-style="normal" fill="#231f20" textLength="3.3" lengthAdjust="spacingAndGlyphs" style="stroke-width:0.08px">7</text>
<text x="34.1" y="276.36" font-size="9.2" text-anchor="end" font-weight="normal" font-style="normal" fill="#231f20" textLength="8.1" lengthAdjust="spacingAndGlyphs" >10</text>
<line x1="41.2" y1="296.5" x2="44" y2="296.5" stroke="#231f20" stroke-width="1.1"/>
<text x="37.9" y="295.18999999999994" font-size="6.2" text-anchor="end" font-weight="normal" font-style="normal" fill="#231f20" textLength="3.3" lengthAdjust="spacingAndGlyphs" style="stroke-width:0.08px">6</text>
<text x="34.1" y="299.28999999999996" font-size="9.2" text-anchor="end" font-weight="normal" font-style="normal" fill="#231f20" textLength="8.1" lengthAdjust="spacingAndGlyphs" >10</text>
<line x1="41.2" y1="319.5" x2="44" y2="319.5" stroke="#231f20" stroke-width="1.1"/>
<text x="37.9" y="318.12" font-size="6.2" text-anchor="end" font-weight="normal" font-style="normal" fill="#231f20" textLength="3.3" lengthAdjust="spacingAndGlyphs" style="stroke-width:0.08px">5</text>
<text x="34.1" y="322.22" font-size="9.2" text-anchor="end" font-weight="normal" font-style="normal" fill="#231f20" textLength="8.1" lengthAdjust="spacingAndGlyphs" >10</text>
<line x1="67.5" y1="319.2" x2="67.5" y2="322.4" stroke="#231f20" stroke-width="1.1"/>
<line x1="102.5" y1="319.2" x2="102.5" y2="322.4" stroke="#231f20" stroke-width="1.1"/>
<text x="75" y="218.1" font-size="8.6" text-anchor="start" font-weight="normal" font-style="normal" fill="#231f20" textLength="20.2" lengthAdjust="spacingAndGlyphs" ><tspan font-style="italic">P</tspan> = .7</text>
<path d="M67.5,226.6 V223.5 H102.5 V226.6" fill="none" stroke="#231f20" stroke-width="1.1"/>
<line x1="67.5" y1="229.5" x2="67.5" y2="316.8" stroke="#231f20" stroke-width="1.1"/>
<line x1="61.849999999999994" y1="229.5" x2="73.35" y2="229.5" stroke="#231f20" stroke-width="1.1"/>
<line x1="61.849999999999994" y1="316.5" x2="73.35" y2="316.5" stroke="#231f20" stroke-width="1.1"/>
<rect x="56.45" y="268.05" width="21.900000000000002" height="29.49999999999999" fill="#979cc1" stroke="#878cb4" stroke-width="0.7"/>
<line x1="56.1" y1="285.1" x2="78.7" y2="285.1" stroke="#111" stroke-width="1.5"/>
<circle cx="67.6" cy="229.5" r="1.1" fill="#1e4592"/>
<circle cx="67.6" cy="246.5" r="1.1" fill="#1e4592"/>
<circle cx="67.6" cy="254.1" r="1.1" fill="#1e4592"/>
<circle cx="67.4" cy="258.3" r="1.1" fill="#1e4592"/>
<circle cx="60.8" cy="263.0" r="1.1" fill="#1e4592"/>
<circle cx="64.1" cy="264.1" r="1.1" fill="#1e4592"/>
<circle cx="67.4" cy="263.0" r="1.1" fill="#1e4592"/>
<circle cx="70.7" cy="264.1" r="1.1" fill="#1e4592"/>
<circle cx="74.5" cy="266.3" r="1.1" fill="#1e4592"/>
<circle cx="64.1" cy="267.0" r="1.1" fill="#1e4592"/>
<circle cx="67.4" cy="267.0" r="1.1" fill="#1e4592"/>
<circle cx="70.7" cy="267.0" r="1.1" fill="#1e4592"/>
<circle cx="67.4" cy="269.6" r="1.1" fill="#1e4592"/>
<circle cx="64.1" cy="272.5" r="1.1" fill="#1e4592"/>
<circle cx="70.7" cy="272.5" r="1.1" fill="#1e4592"/>
<circle cx="67.4" cy="273.3" r="1.1" fill="#1e4592"/>
<circle cx="67.4" cy="275.3" r="1.1" fill="#1e4592"/>
<circle cx="67.4" cy="277.4" r="1.1" fill="#1e4592"/>
<circle cx="67.4" cy="281.6" r="1.1" fill="#1e4592"/>
<circle cx="64.1" cy="285.3" r="1.1" fill="#1e4592"/>
<circle cx="70.7" cy="284.9" r="1.1" fill="#1e4592"/>
<circle cx="67.4" cy="285.8" r="1.1" fill="#1e4592"/>
<circle cx="62.4" cy="289.1" r="1.1" fill="#1e4592"/>
<circle cx="65.8" cy="288.3" r="1.1" fill="#1e4592"/>
<circle cx="69.1" cy="288.3" r="1.1" fill="#1e4592"/>
<circle cx="72.4" cy="289.1" r="1.1" fill="#1e4592"/>
<circle cx="67.4" cy="293.6" r="1.1" fill="#1e4592"/>
<circle cx="60.8" cy="295.7" r="1.1" fill="#1e4592"/>
<circle cx="64.1" cy="295.2" r="1.1" fill="#1e4592"/>
<circle cx="70.7" cy="295.2" r="1.1" fill="#1e4592"/>
<circle cx="74.5" cy="295.7" r="1.1" fill="#1e4592"/>
<circle cx="60.8" cy="298.6" r="1.1" fill="#1e4592"/>
<circle cx="64.1" cy="298.6" r="1.1" fill="#1e4592"/>
<circle cx="67.4" cy="298.6" r="1.1" fill="#1e4592"/>
<circle cx="70.7" cy="298.6" r="1.1" fill="#1e4592"/>
<circle cx="64.1" cy="300.2" r="1.1" fill="#1e4592"/>
<circle cx="74.5" cy="299.6" r="1.1" fill="#1e4592"/>
<circle cx="67.4" cy="302.4" r="1.1" fill="#1e4592"/>
<circle cx="67.4" cy="310.7" r="1.1" fill="#1e4592"/>
<circle cx="70.7" cy="309.0" r="1.1" fill="#1e4592"/>
<circle cx="67.4" cy="316.5" r="1.1" fill="#1e4592"/>
<line x1="102.5" y1="235.7" x2="102.5" y2="307.3" stroke="#231f20" stroke-width="1.1"/>
<line x1="97.0" y1="235.5" x2="108.19999999999999" y2="235.5" stroke="#231f20" stroke-width="1.1"/>
<line x1="97.0" y1="307.5" x2="108.19999999999999" y2="307.5" stroke="#231f20" stroke-width="1.1"/>
<rect x="91.44999999999999" y="259.05" width="22.200000000000006" height="40.20000000000003" fill="#cd8e80" stroke="#c27c6d" stroke-width="0.7"/>
<line x1="91.1" y1="280" x2="114" y2="280" stroke="#111" stroke-width="1.5"/>
<circle cx="102.6" cy="235.7" r="1.3" fill="#b21032"/>
<circle cx="102.6" cy="249.5" r="1.3" fill="#b21032"/>
<circle cx="102.6" cy="263.4" r="1.3" fill="#b21032"/>
<circle cx="102.6" cy="271.2" r="1.3" fill="#b21032"/>
<circle cx="102.6" cy="278.1" r="1.3" fill="#b21032"/>
<circle cx="102.6" cy="287.5" r="1.3" fill="#b21032"/>
<circle cx="100.9" cy="299.6" r="1.3" fill="#b21032"/>
<circle cx="104.4" cy="301.3" r="1.3" fill="#b21032"/>
<circle cx="102.6" cy="307.3" r="1.3" fill="#b21032"/>
<text transform="translate(71.5,332.5) rotate(-43)" font-size="10" text-anchor="end" fill="#231f20" textLength="75" lengthAdjust="spacingAndGlyphs" style="stroke-width:0.1px">Ferritin &lt;999 ng/mL</text>
<text transform="translate(107.3,332) rotate(-43)" font-size="10" text-anchor="end" fill="#231f20" textLength="78.5" lengthAdjust="spacingAndGlyphs" style="stroke-width:0.1px">Ferritin &gt;1000 ng/mL</text>
<text x="140.7" y="208" font-size="12" text-anchor="start" font-weight="bold" font-style="normal" fill="#000" textLength="7.3" lengthAdjust="spacingAndGlyphs" >E</text>
<text transform="translate(148.8,273.5) rotate(-90)" font-size="10" text-anchor="middle" fill="#231f20" textLength="87.6" lengthAdjust="spacingAndGlyphs">Day of CAR T infusion IL-6</text>
<line x1="174.5" y1="225.5" x2="174.5" y2="319.4" stroke="#231f20" stroke-width="1.2"/>
<line x1="174.0" y1="319.5" x2="253.75" y2="319.5" stroke="#231f20" stroke-width="1.2"/>
<line x1="171.8" y1="228.5" x2="174.6" y2="228.5" stroke="#231f20" stroke-width="1.1"/>
<text x="168.1" y="231.1" font-size="8.6" text-anchor="end" font-weight="normal" font-style="normal" fill="#231f20" textLength="12.600000000000001" lengthAdjust="spacingAndGlyphs" >256</text>
<line x1="171.8" y1="243.5" x2="174.6" y2="243.5" stroke="#231f20" stroke-width="1.1"/>
<text x="168.1" y="246.32999999999998" font-size="8.6" text-anchor="end" font-weight="normal" font-style="normal" fill="#231f20" textLength="12.600000000000001" lengthAdjust="spacingAndGlyphs" >128</text>
<line x1="171.8" y1="258.5" x2="174.6" y2="258.5" stroke="#231f20" stroke-width="1.1"/>
<text x="168.1" y="261.56" font-size="8.6" text-anchor="end" font-weight="normal" font-style="normal" fill="#231f20" textLength="8.4" lengthAdjust="spacingAndGlyphs" >64</text>
<line x1="171.8" y1="273.5" x2="174.6" y2="273.5" stroke="#231f20" stroke-width="1.1"/>
<text x="168.1" y="276.79" font-size="8.6" text-anchor="end" font-weight="normal" font-style="normal" fill="#231f20" textLength="8.4" lengthAdjust="spacingAndGlyphs" >32</text>
<line x1="171.8" y1="288.5" x2="174.6" y2="288.5" stroke="#231f20" stroke-width="1.1"/>
<text x="168.1" y="292.02000000000004" font-size="8.6" text-anchor="end" font-weight="normal" font-style="normal" fill="#231f20" textLength="8.4" lengthAdjust="spacingAndGlyphs" >16</text>
<line x1="171.8" y1="304.5" x2="174.6" y2="304.5" stroke="#231f20" stroke-width="1.1"/>
<text x="168.1" y="307.25" font-size="8.6" text-anchor="end" font-weight="normal" font-style="normal" fill="#231f20" textLength="4.2" lengthAdjust="spacingAndGlyphs" >8</text>
<line x1="171.8" y1="319.5" x2="174.6" y2="319.5" stroke="#231f20" stroke-width="1.1"/>
<text x="168.1" y="322.48" font-size="8.6" text-anchor="end" font-weight="normal" font-style="normal" fill="#231f20" textLength="4.2" lengthAdjust="spacingAndGlyphs" >4</text>
<line x1="197.5" y1="319.3" x2="197.5" y2="322.4" stroke="#231f20" stroke-width="1.1"/>
<line x1="231.5" y1="319.3" x2="231.5" y2="322.4" stroke="#231f20" stroke-width="1.1"/>
<text x="205" y="220.8" font-size="8.6" text-anchor="start" font-weight="normal" font-style="normal" fill="#231f20" textLength="20.2" lengthAdjust="spacingAndGlyphs" ><tspan font-style="italic">P</tspan> = .7</text>
<path d="M198.5,229.2 V225.5 H231.5 V229.2" fill="none" stroke="#231f20" stroke-width="1.1"/>
<line x1="197.5" y1="239.5" x2="197.5" y2="317.1" stroke="#231f20" stroke-width="1.1"/>
<line x1="192.1" y1="239.5" x2="203.1" y2="239.5" stroke="#231f20" stroke-width="1.1"/>
<line x1="192.1" y1="317.5" x2="203.1" y2="317.5" stroke="#231f20" stroke-width="1.1"/>
<rect x="186.45" y="277.55" width="21.899999999999995" height="28.600000000000012" fill="#979cc1" stroke="#878cb4" stroke-width="0.7"/>
<line x1="186.1" y1="290" x2="208.7" y2="290" stroke="#111" stroke-width="1.5"/>
<circle cx="197.6" cy="239.5" r="1.3" fill="#1e4592"/>
<circle cx="200" cy="239.5" r="1.3" fill="#1e4592"/>
<circle cx="197.6" cy="256.3" r="1.3" fill="#1e4592"/>
<circle cx="195.8" cy="272.7" r="1.3" fill="#1e4592"/>
<circle cx="199.2" cy="272.7" r="1.3" fill="#1e4592"/>
<circle cx="197.2" cy="276.1" r="1.3" fill="#1e4592"/>
<circle cx="201.1" cy="277.3" r="1.3" fill="#1e4592"/>
<circle cx="197.6" cy="279.6" r="1.3" fill="#1e4592"/>
<circle cx="194.2" cy="285.3" r="1.3" fill="#1e4592"/>
<circle cx="198.8" cy="285.8" r="1.3" fill="#1e4592"/>
<circle cx="197.2" cy="288.8" r="1.3" fill="#1e4592"/>
<circle cx="197.6" cy="292.2" r="1.3" fill="#1e4592"/>
<circle cx="194.2" cy="295.7" r="1.3" fill="#1e4592"/>
<circle cx="198.8" cy="296.4" r="1.3" fill="#1e4592"/>
<circle cx="194.2" cy="301" r="1.3" fill="#1e4592"/>
<circle cx="197.6" cy="302.1" r="1.3" fill="#1e4592"/>
<circle cx="194.2" cy="307.9" r="1.3" fill="#1e4592"/>
<circle cx="197.6" cy="307.9" r="1.3" fill="#1e4592"/>
<circle cx="201.1" cy="307.9" r="1.3" fill="#1e4592"/>
<circle cx="197.6" cy="311.8" r="1.3" fill="#1e4592"/>
<circle cx="197.2" cy="315.2" r="1.3" fill="#1e4592"/>
<circle cx="198.8" cy="316.4" r="1.3" fill="#1e4592"/>
<line x1="231.5" y1="231.9" x2="231.5" y2="313.4" stroke="#231f20" stroke-width="1.1"/>
<line x1="225.75" y1="231.5" x2="237.05" y2="231.5" stroke="#231f20" stroke-width="1.1"/>
<line x1="225.75" y1="313.5" x2="237.05" y2="313.5" stroke="#231f20" stroke-width="1.1"/>
<rect x="220.54999999999998" y="270.55" width="21.600000000000012" height="29.8" fill="#cd8e80" stroke="#c27c6d" stroke-width="0.7"/>
<line x1="220.2" y1="289.6" x2="242.5" y2="289.6" stroke="#111" stroke-width="1.5"/>
<circle cx="231.5" cy="231.9" r="1.3" fill="#b21032"/>
<circle cx="231.5" cy="237.9" r="1.3" fill="#b21032"/>
<circle cx="231.5" cy="247.1" r="1.3" fill="#b21032"/>
<circle cx="231.5" cy="258.6" r="1.3" fill="#b21032"/>
<circle cx="231.5" cy="274.1" r="1.3" fill="#b21032"/>
<circle cx="231.5" cy="278.2" r="1.3" fill="#b21032"/>
<circle cx="231" cy="274.5" r="1.3" fill="#b21032"/>
<circle cx="230.5" cy="284.9" r="1.3" fill="#b21032"/>
<circle cx="228.7" cy="287.6" r="1.3" fill="#b21032"/>
<circle cx="232.2" cy="288.1" r="1.3" fill="#b21032"/>
<circle cx="231" cy="291.1" r="1.3" fill="#b21032"/>
<circle cx="231" cy="295.7" r="1.3" fill="#b21032"/>
<circle cx="227.5" cy="301" r="1.3" fill="#b21032"/>
<circle cx="231" cy="301" r="1.3" fill="#b21032"/>
<circle cx="234.5" cy="301" r="1.3" fill="#b21032"/>
<circle cx="229.4" cy="312.5" r="1.3" fill="#b21032"/>
<circle cx="232.6" cy="313.4" r="1.3" fill="#b21032"/>
<text transform="translate(201.6,332) rotate(-43)" font-size="10" text-anchor="end" fill="#231f20" textLength="65" lengthAdjust="spacingAndGlyphs" style="stroke-width:0.1px">High Peak Axi-cel</text>
<text transform="translate(234.3,332) rotate(-43)" font-size="10" text-anchor="end" fill="#231f20" textLength="59.5" lengthAdjust="spacingAndGlyphs" style="stroke-width:0.1px">Low Peak axi-cel</text>
<rect x="0.5" y="0.5" width="519" height="390" fill="none" stroke="#000" stroke-width="1"/>
</svg></body></html>
